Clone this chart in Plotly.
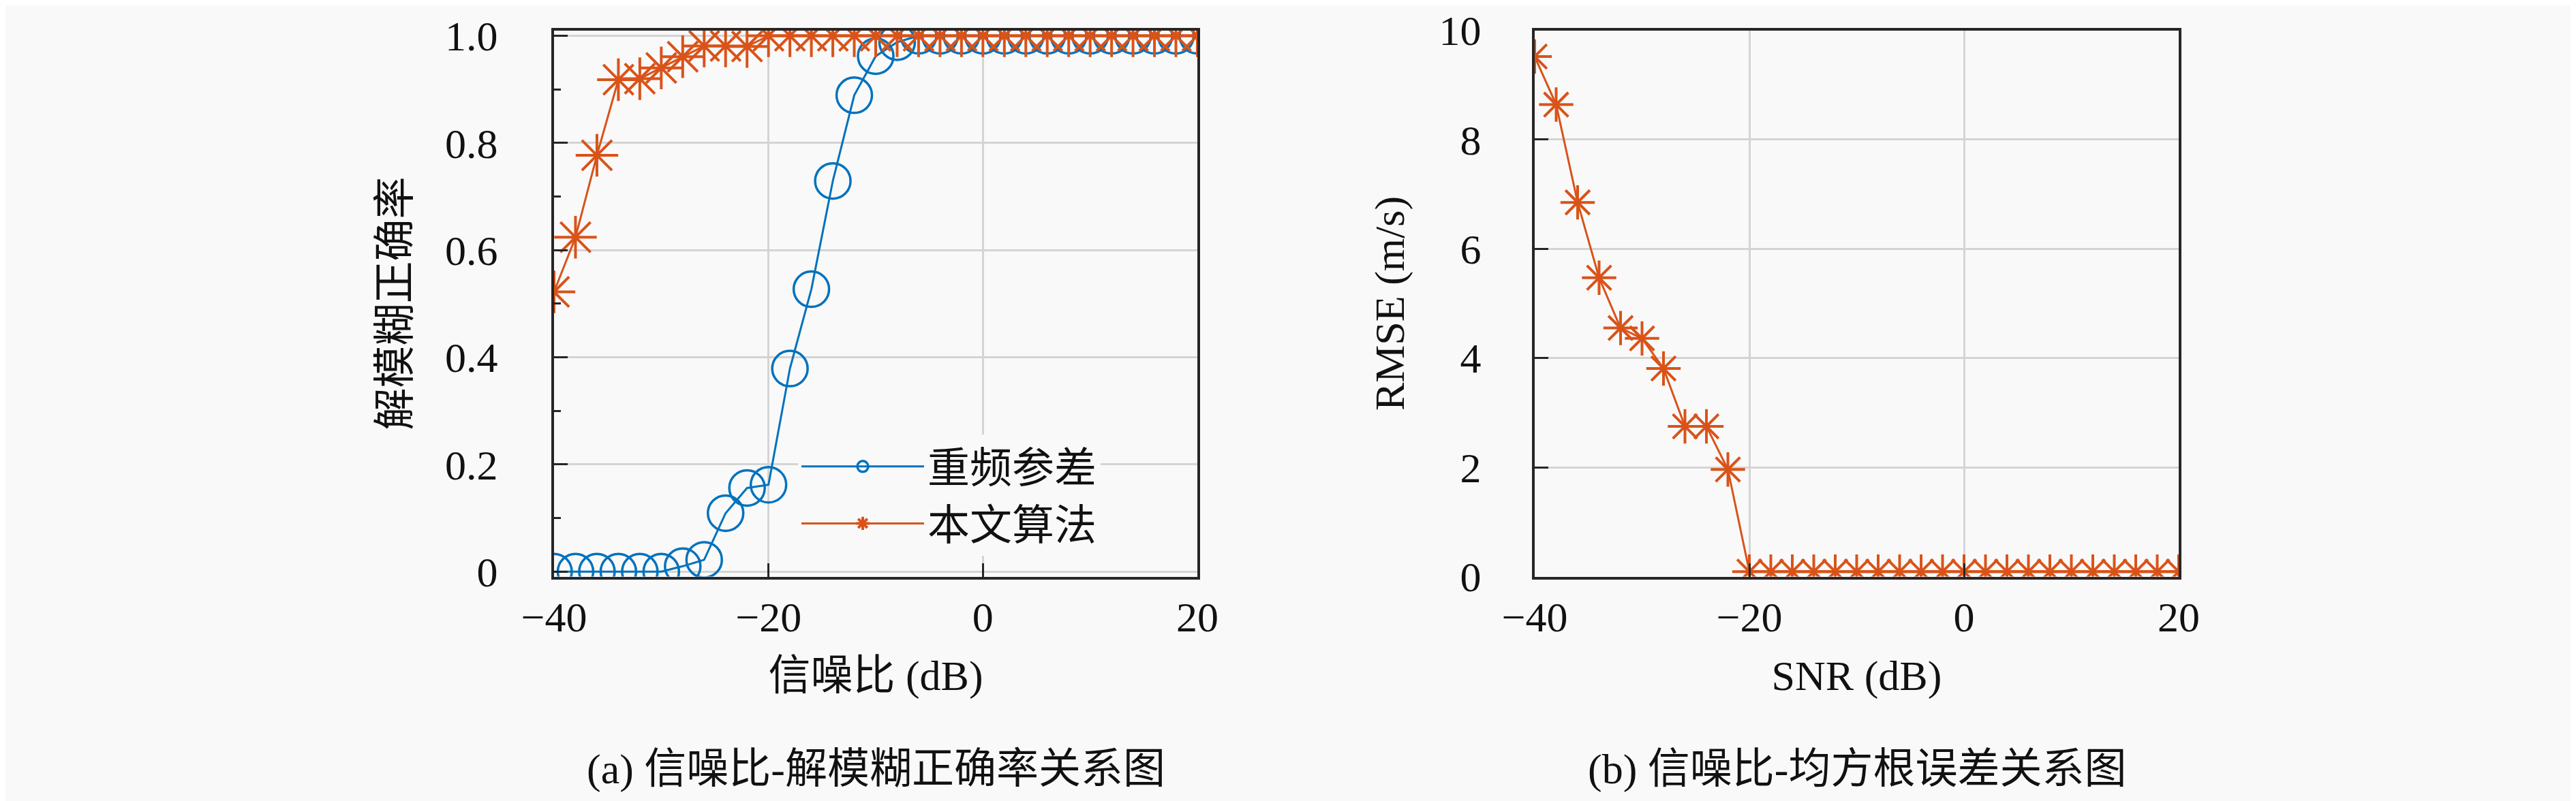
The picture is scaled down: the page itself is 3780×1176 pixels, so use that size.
import plotly.graph_objects as go
from plotly.subplots import make_subplots

# SNR (dB)
snr = [-40, -38, -36, -34, -32, -30, -28, -26, -24, -22, -20, -18, -16, -14, -12, -10,
       -8, -6, -4, -2, 0, 2, 4, 6, 8, 10, 12, 14, 16, 18, 20]

# (a) 解模糊正确率
acc_prf = [0, 0, 0, 0, 0, 0, 0.01, 0.022, 0.109, 0.156, 0.162, 0.379, 0.527, 0.729, 0.889, 0.962,
           0.988, 1, 1, 1, 1, 1, 1, 1, 1, 1, 1, 1, 1, 1, 1]
acc_ours = [0.522, 0.624, 0.777, 0.918, 0.92, 0.94, 0.961, 0.981, 0.981, 0.98, 1, 1, 1, 1, 1, 1,
            1, 1, 1, 1, 1, 1, 1, 1, 1, 1, 1, 1, 1, 1, 1]

# (b) RMSE (m/s)
rmse_ours = [9.52, 8.64, 6.85, 5.47, 4.55, 4.36, 3.81, 2.75, 2.75, 1.96, 0.09, 0.09, 0.09, 0.09,
             0.09, 0.09, 0.09, 0.09, 0.09, 0.09, 0.09, 0.09, 0.09, 0.09, 0.09, 0.09, 0.09, 0.09,
             0.09, 0.09, 0.09]

names = ['重频参差', '本文算法']
x_ticks = [-40, -20, 0, 20]
acc_ticks = [0, 0.2, 0.4, 0.6, 0.8, 1.0]
acc_ticktext = ['0', '0.2', '0.4', '0.6', '0.8', '1.0']
rmse_ticks = [0, 2, 4, 6, 8, 10]
captions = ['(a) 信噪比-解模糊正确率关系图', '(b) 信噪比-均方根误差关系图']

BLUE = '#0072BD'
ORANGE = '#D95319'
BG = '#f9f9f9'
FONT = 'Liberation Serif, Noto Sans CJK SC, serif'
FS = 62
W, H = 3780, 1176

fig = make_subplots(rows=1, cols=2)

fig.add_trace(go.Scatter(
    name=names[0], x=snr, y=acc_prf, mode='lines+markers',
    line=dict(color=BLUE, width=3),
    marker=dict(symbol='circle-open', size=52, color=BLUE, line=dict(width=3.5, color=BLUE)),
), row=1, col=1)
fig.add_trace(go.Scatter(
    name=names[1], x=snr, y=acc_ours, mode='lines+markers',
    line=dict(color=ORANGE, width=3),
    marker=dict(symbol='asterisk-open', size=52, color=ORANGE, line=dict(width=4, color=ORANGE)),
), row=1, col=1)
fig.add_trace(go.Scatter(
    name=names[1], x=snr, y=rmse_ours, mode='lines+markers', showlegend=False,
    line=dict(color=ORANGE, width=3),
    marker=dict(symbol='asterisk-open', size=42, color=ORANGE, line=dict(width=4, color=ORANGE)),
), row=1, col=2)

axis_style = dict(
    showline=True, linewidth=4, linecolor='#262626', mirror=True,
    ticks='inside', ticklen=20, tickwidth=3, tickcolor='#262626',
    showgrid=True, gridcolor='#d4d4d4', gridwidth=3, zeroline=False,
    automargin=False,
    tickfont=dict(family=FONT, size=FS, color='#111111'),
)

y_dom = [1 - 838.5 / H, 1 - 36.5 / H]
fig.update_layout(
    width=W, height=H,
    margin=dict(l=0, r=0, t=0, b=0),
    paper_bgcolor=BG, plot_bgcolor=BG,
    font=dict(family=FONT, size=FS, color='#111111'),
    xaxis=dict(domain=[805 / W, 1749 / W], range=[-40, 20], tickvals=x_ticks,
               ticklabelstandoff=2,
               title=dict(text='信噪比 (dB)', standoff=32, font=dict(size=FS)), **axis_style),
    yaxis=dict(domain=y_dom, range=[-0.0093, 1.0102], tickvals=acc_ticks, ticktext=acc_ticktext,
               ticklabelstandoff=66,
               minor=dict(dtick=0.1, ticks='inside', ticklen=10, tickwidth=3, tickcolor='#262626',
                          showgrid=False),
               title=dict(text='解模糊正确率', standoff=32, font=dict(size=FS)), **axis_style),
    xaxis2=dict(domain=[2244 / W, 3189 / W], range=[-40, 20], tickvals=x_ticks,
                ticklabelstandoff=2,
                title=dict(text='SNR (dB)', standoff=32, font=dict(size=FS)), **axis_style),
    yaxis2=dict(domain=y_dom, range=[0, 10], tickvals=rmse_ticks,
                ticklabelstandoff=62,
                title=dict(text='RMSE (m/s)', standoff=32, font=dict(size=FS)), **axis_style),
    legend=dict(x=1163 / W, y=1 - 630 / H, xanchor='left', yanchor='top',
                bgcolor=BG, borderwidth=0, itemwidth=180, tracegroupgap=0,
                font=dict(family=FONT, size=FS)),
)

# 子图标题
for cap, cx in zip(captions, [1277 / W, 2717 / W]):
    fig.add_annotation(text=cap, x=cx, y=1 - 1121 / H, xref='paper', yref='paper',
                       xanchor='center', yanchor='middle', showarrow=False,
                       font=dict(family=FONT, size=FS))

fig.write_html("out.html")
